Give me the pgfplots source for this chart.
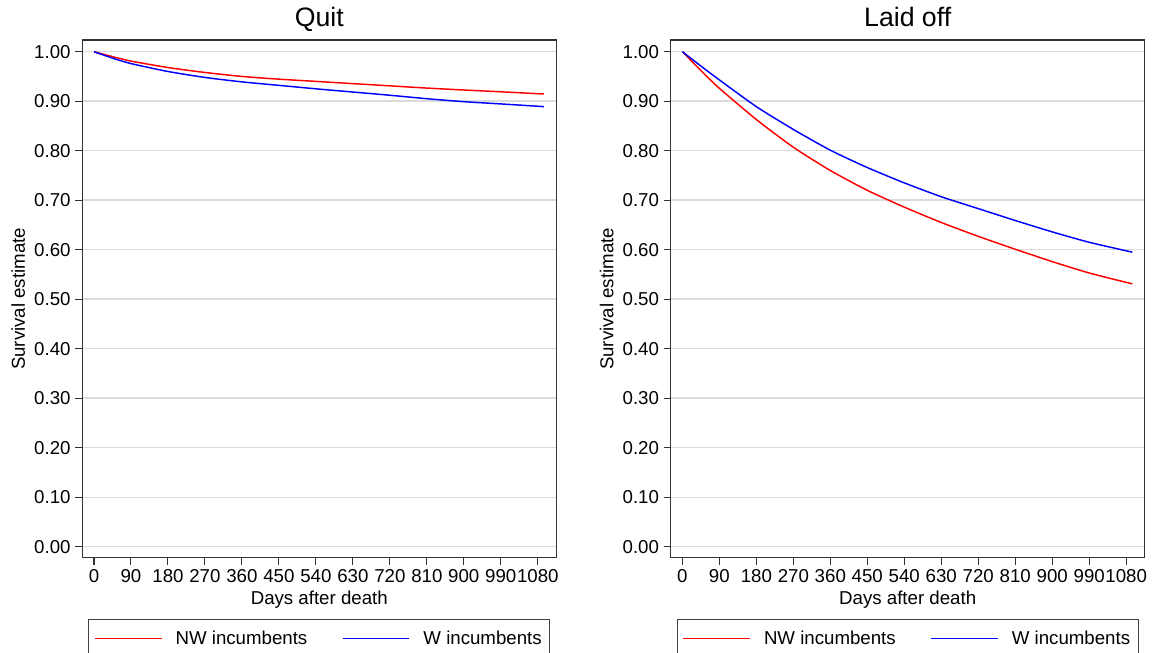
\documentclass[border=0pt]{standalone}
\usepackage{fontspec}
\setmainfont{Liberation Sans}
\usepackage{pgfplots}
\pgfplotsset{compat=1.18}

% shared look of both panels
\pgfplotsset{
  panel/.style={
    scale only axis, width=355.5pt, height=388.3pt,
    xmin=-28.5, xmax=1125, ymin=-0.0222, ymax=1.0236,
    xtick={0,90,...,1080},
    ytick={0,0.1,0.2,0.3,0.4,0.5,0.6,0.7,0.8,0.9,1},
    /pgf/number format/assume math mode=true,
    xticklabel style={/pgf/number format/1000 sep={}},
    yticklabel style={/pgf/number format/.cd, fixed, fixed zerofill, precision=2},
    ymajorgrids, grid style={gray!28, line width=1.1pt},
    tick align=outside, major tick length=5.25pt,
    xtick pos=left, ytick pos=left,
    tick style={black!80, line width=0.8pt},
    axis line style={black!80, line width=0.9pt},
    font=\fontsize{14}{16}\selectfont,
    title style={font=\fontsize{20}{24}\selectfont, at={(0.5,1)}, anchor=base, yshift=4.2pt, inner sep=0pt},
    xlabel={Days after death}, ylabel={Survival estimate},
    xlabel style={at={(rel axis cs:0.5,0)}, anchor=base, yshift=-34.7pt, inner sep=0pt},
    ylabel style={at={(rel axis cs:-0.135,0.5)}, anchor=center},
    legend columns=2,
    legend style={at={(0.5,-0.119)}, anchor=north, draw=black!75, line width=0.8pt,
      inner xsep=4pt, inner ysep=6pt, font=\fontsize{14}{16}\selectfont, cells={anchor=west},
      /tikz/every odd column/.append style={column sep=8pt},
      /tikz/every even column/.append style={column sep=24pt}},
    legend image code/.code={\draw[#1] (0pt,0pt) -- (50pt,0pt);},
    every axis plot/.append style={line width=1.1pt, smooth, tension=0.4, no marks},
  }
}

\begin{document}
\begin{tikzpicture}
\begin{axis}[panel, title={Quit}, at={(61.7pt,-418.3pt)}, anchor=south west]
\addplot[red] coordinates {
  (0,1.000) (45,0.990) (90,0.981) (180,0.968) (270,0.958) (360,0.950) (450,0.9445)
  (540,0.940) (630,0.9355) (720,0.931) (810,0.9265) (900,0.9226) (990,0.919) (1095,0.9145)
};
\addlegendentry{NW incumbents}
\addplot[blue] coordinates {
  (0,1.000) (45,0.987) (90,0.976) (180,0.960) (270,0.948) (360,0.939) (450,0.932)
  (540,0.925) (630,0.9185) (720,0.912) (810,0.905) (900,0.899) (990,0.8945) (1095,0.889)
};
\addlegendentry{W incumbents}
\end{axis}

\begin{axis}[panel, title={Laid off}, at={(503pt,-418.3pt)}, anchor=south west]
\addplot[red] coordinates {
  (0,1.000) (45,0.962) (90,0.926) (180,0.863) (270,0.807) (360,0.760) (450,0.720)
  (540,0.686) (630,0.655) (720,0.627) (810,0.601) (900,0.576) (990,0.553) (1095,0.531)
};
\addlegendentry{NW incumbents}
\addplot[blue] coordinates {
  (0,1.000) (45,0.971) (90,0.943) (180,0.889) (270,0.843) (360,0.801) (450,0.766)
  (540,0.735) (630,0.707) (720,0.683) (810,0.659) (900,0.636) (990,0.615) (1095,0.595)
};
\addlegendentry{W incumbents}
\end{axis}
\pgfresetboundingbox
\useasboundingbox (0,0) rectangle (865.5pt,-489.75pt);
\end{tikzpicture}
\end{document}
